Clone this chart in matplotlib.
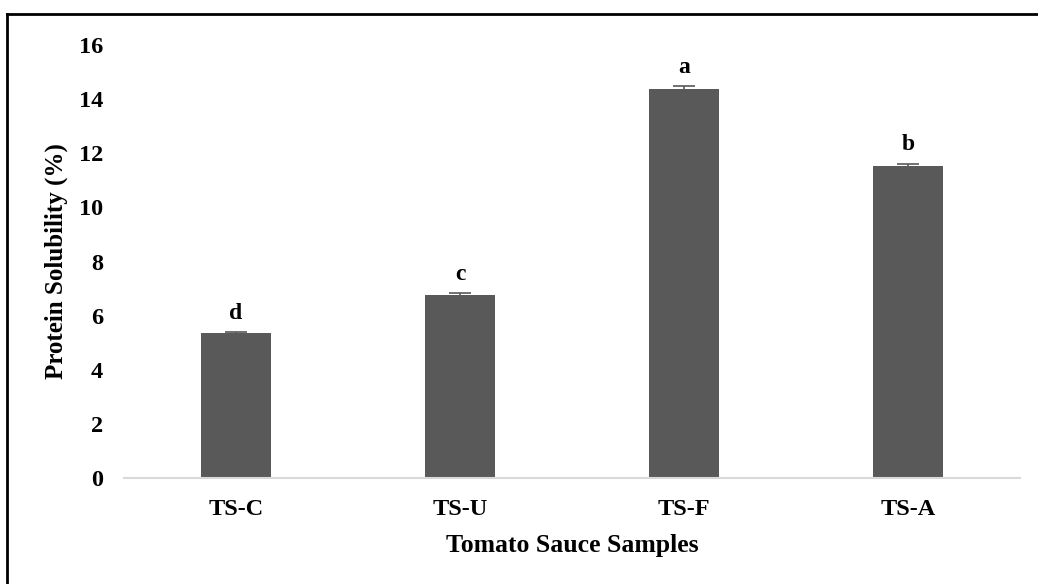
import matplotlib.pyplot as plt
from matplotlib.lines import Line2D

# data
samples = ['TS-C', 'TS-U', 'TS-F', 'TS-A']
solubility = [5.35, 6.75, 14.37, 11.52]
errors = [0.05, 0.08, 0.1, 0.1]
letters = ['d', 'c', 'a', 'b']

plt.rcParams['font.family'] = ['Liberation Serif', 'DejaVu Serif']
plt.rcParams['font.weight'] = 'bold'

fig = plt.figure(figsize=(10.38, 5.84), dpi=100)
ax = fig.add_axes([0.1195, 0.1815, 0.8632, 0.7414])

x = range(len(samples))
ax.bar(x, solubility, width=0.31, color='#595959', zorder=2,
       yerr=errors, error_kw=dict(ecolor='#595959', capsize=8, elinewidth=1.2, capthick=1.2))

for i, (v, e, l) in enumerate(zip(solubility, errors, letters)):
    ax.text(i, v + e + 0.3, l, ha='center', va='bottom', fontsize=17, fontweight='bold')

ax.set_xlim(-0.5, 3.5)
ax.set_ylim(0, 16)
ax.set_yticks(range(0, 17, 2))
ax.set_xticks(list(x))
ax.set_xticklabels(samples)
ax.tick_params(axis='both', length=0, labelsize=17.5)
ax.tick_params(axis='x', pad=15)
ax.tick_params(axis='y', pad=15)

for s in ['top', 'right', 'left']:
    ax.spines[s].set_visible(False)
ax.spines['bottom'].set_color('#d9d9d9')
ax.spines['bottom'].set_linewidth(1.5)

ax.set_ylabel('Protein Solubility (%)', fontsize=18, fontweight='bold', labelpad=8)
ax.set_xlabel('Tomato Sauce Samples', fontsize=18.5, fontweight='bold', labelpad=10)

# outer frame (top and left edges only visible in the reference)
fig.add_artist(Line2D([7 / 1038, 1], [1 - 13.5 / 584, 1 - 13.5 / 584], color='black', lw=2,
                      transform=fig.transFigure))
fig.add_artist(Line2D([7 / 1038, 7 / 1038], [0, 1 - 13.5 / 584], color='black', lw=2,
                      transform=fig.transFigure))

fig.savefig('out.png', dpi=100)
